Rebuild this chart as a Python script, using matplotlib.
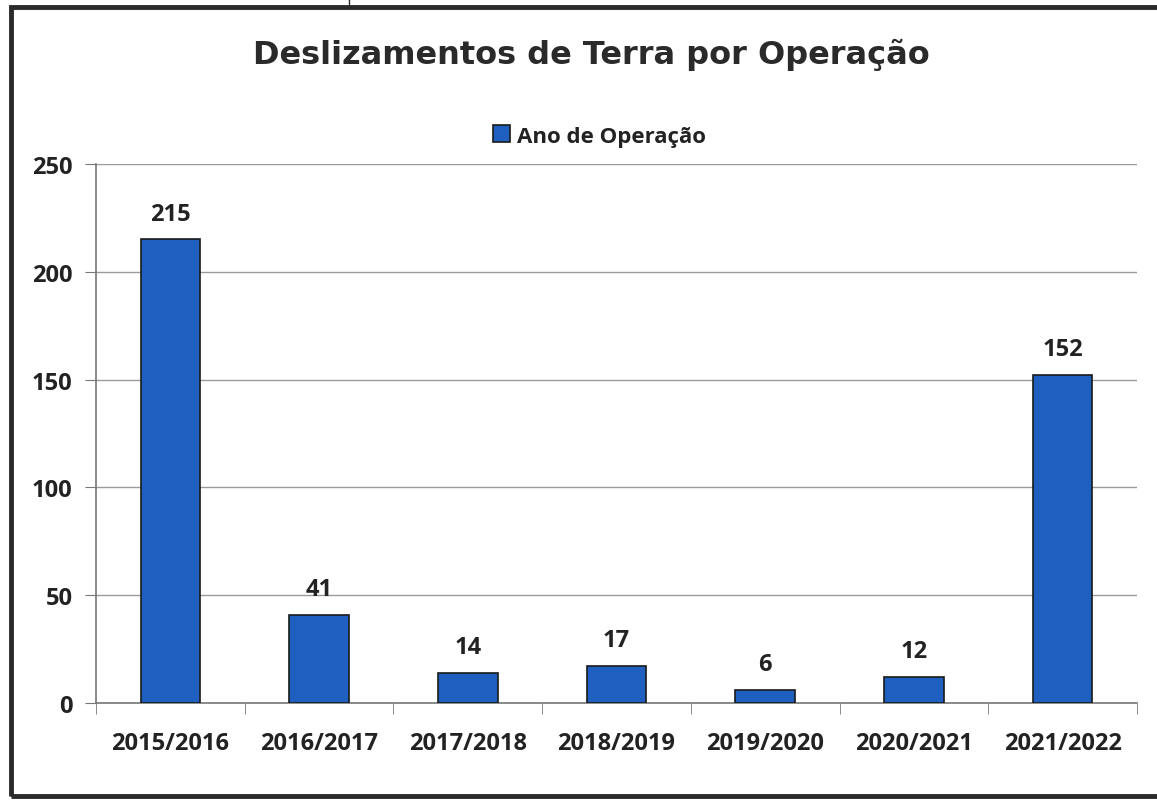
import matplotlib
matplotlib.use("Agg")
import matplotlib.pyplot as plt
from matplotlib.patches import Rectangle
from matplotlib.lines import Line2D
import numpy as np

categories = ["2015/2016", "2016/2017", "2017/2018", "2018/2019", "2019/2020", "2020/2021", "2021/2022"]
values = [215, 41, 14, 17, 6, 12, 152]
yticks = [0, 50, 100, 150, 200, 250]
series_name = "Ano de Operação"
title = "Deslizamentos de Terra por Operação"

bar_color = "#1f5fc0"
label_font = ["Open Sans", "DejaVu Sans"]

fig = plt.figure(figsize=(11.57, 8.03), dpi=100)
ax = fig.add_axes([96/1157, 1-704/803, (1137-96)/1157, (704-165)/803])

x = np.arange(len(categories))
bars = ax.bar(x, values, width=0.4, color=bar_color, edgecolor="#1a1a1a", linewidth=1.2, zorder=3, label=series_name)

ax.set_xlim(-0.5, len(categories)-0.5)
ax.set_ylim(0, 250)
ax.set_yticks(yticks)
ax.set_yticklabels([str(v) for v in yticks], fontsize=17, fontweight="bold", family=label_font, color="#222222")
ax.set_xticks(x)
ax.set_xticklabels(categories, fontsize=17, fontweight="bold", family=label_font, color="#222222")
ax.set_xticks(np.arange(-0.5, len(categories)), minor=True)
ax.tick_params(axis="x", which="major", length=0, pad=20)
ax.tick_params(axis="x", which="minor", length=8, color="#777777", direction="out")
ax.tick_params(axis="y", length=8, color="#777777", direction="out", pad=9)
ax.grid(axis="y", color="#9a9a9a", linewidth=1.0, zorder=0)
for side in ["top", "right"]:
    ax.spines[side].set_visible(False)
for side in ["left", "bottom"]:
    ax.spines[side].set_color("#777777")
    ax.spines[side].set_linewidth(1.2)

for xi, v in zip(x, values):
    ax.annotate(str(v), (xi, v), xytext=(0, 10), textcoords="offset points", ha="center", va="bottom",
                fontsize=17, fontweight="bold", family=label_font, color="#222222")

fig.text(0.511, 1-55/803, title, ha="center", va="center", fontsize=23, fontweight="bold",
         family="DejaVu Sans", color="#2a2a2a")

leg = fig.legend(handles=[bars], labels=[series_name], loc="center", bbox_to_anchor=(0.518, 1-137/803),
                 frameon=False, handlelength=0.8, handleheight=0.8, handletextpad=0.3,
                 prop={"family": label_font, "weight": "bold", "size": 16})
for t in leg.get_texts():
    t.set_color("#222222")

# outer border
fig.patches.append(Rectangle((11/1157, 1-797/803), 1.2, (797-8)/803, transform=fig.transFigure,
                             fill=False, edgecolor="#2a2a2a", linewidth=3.5))
fig.lines.append(Line2D([349/1157, 349/1157], [1-8/803, 1.0], transform=fig.transFigure,
                        color="#2a2a2a", linewidth=1.0))

fig.savefig("out.png", dpi=100, facecolor="white")
